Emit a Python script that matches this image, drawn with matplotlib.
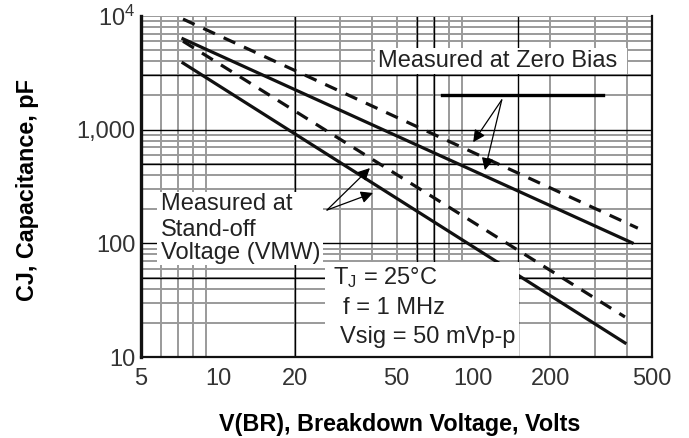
import matplotlib
matplotlib.use("Agg")
import matplotlib.pyplot as plt
from matplotlib.patches import Rectangle
import numpy as np

plt.rcParams['font.family'] = ['Liberation Sans', 'DejaVu Sans']
plt.rcParams['mathtext.fontset'] = 'custom'
plt.rcParams['mathtext.rm'] = 'Liberation Sans'
plt.rcParams['mathtext.it'] = 'Liberation Sans'

# ---- data ----
v_zero_dashed = [7.3, 440]
c_zero_dashed = [9400, 136]
v_zero_solid = [7.3, 418]
c_zero_solid = [6300, 101]
v_vmw_dashed = [7.3, 392]
c_vmw_dashed = [6000, 22.5]
v_vmw_solid = [7.3, 392]
c_vmw_solid = [3860, 13.3]

x_ticks = [5, 10, 20, 50, 100, 200, 500]
x_ticklabels = ['5', '10', '20', '50', '100', '200', '500']
y_ticks = [10, 100, 1000, 10000]
y_ticklabels = ['10', '100', '1,000', r'$\mathregular{10^4}$']

fig = plt.figure(figsize=(6.89, 4.38), dpi=100)
ax = fig.add_axes([141/689, (438-357)/438, 511/689, 341/438])
ax.set_xscale('log')
ax.set_yscale('log')
ax.set_xlim(5, 500)
ax.set_ylim(10, 10000)

# grid
minor_gray = '#9a9a9a'
for dec in [1, 10, 100]:
    for m in range(2, 10):
        val = 5 * 0 + m * dec
        if 5 < val < 500:
            ax.axvline(val, color=minor_gray, lw=1.4, zorder=0.5)
for dec in [10, 100, 1000]:
    for m in range(2, 10):
        ax.axhline(m * dec, color=minor_gray, lw=1.4, zorder=0.5)
for val in [20, 60, 70, 150]:
    ax.axvline(val, color='black', lw=1.0, zorder=0.6)
for val in [50, 100, 500, 1000, 3000]:
    ax.axhline(val, color='black', lw=1.0, zorder=0.6)
ax.axhline(10000, color=minor_gray, lw=1.4, zorder=0.6)
ax.axhline(2000, xmin=0.589, xmax=0.904, color='black', lw=2.4, zorder=0.7)

# curves
lw = 2.3
ax.plot(v_zero_dashed, c_zero_dashed, color='#111111', lw=lw, ls=(0, (4, 3)), zorder=2)
ax.plot(v_zero_solid, c_zero_solid, color='#111111', lw=lw, zorder=2)
ax.plot(v_vmw_dashed, c_vmw_dashed, color='#111111', lw=lw, ls=(0, (4, 3)), zorder=2)
ax.plot(v_vmw_solid, c_vmw_solid, color='#111111', lw=lw, zorder=2)

# white label boxes
for (x0, y0, w, h) in [(0.360, 0.0, 0.380, 0.279),
                       (0.031, 0.270, 0.325, 0.214),
                       (0.458, 0.830, 0.493, 0.075)]:
    ax.add_patch(Rectangle((x0, y0), w, h, transform=ax.transAxes,
                           facecolor='white', edgecolor='none', zorder=3))

tcol = '#222222'
fs = 17
ax.text(0.464, 0.868, 'Measured at Zero Bias', transform=ax.transAxes,
        fontsize=fs, color=tcol, va='center', ha='left', zorder=4)
ax.text(0.039, 0.449, 'Measured at', transform=ax.transAxes,
        fontsize=fs, color=tcol, va='center', ha='left', zorder=4)
ax.text(0.039, 0.372, 'Stand-off', transform=ax.transAxes,
        fontsize=fs, color=tcol, va='center', ha='left', zorder=4)
ax.text(0.039, 0.305, 'Voltage (VMW)', transform=ax.transAxes,
        fontsize=fs, color=tcol, va='center', ha='left', zorder=4)
ax.text(0.376, 0.232, r'$\mathregular{T_J}$ = 25°C', transform=ax.transAxes,
        fontsize=fs, color=tcol, va='center', ha='left', zorder=4)
ax.text(0.395, 0.144, 'f = 1 MHz', transform=ax.transAxes,
        fontsize=fs, color=tcol, va='center', ha='left', zorder=4)
ax.text(0.389, 0.059, 'Vsig = 50 mVp-p', transform=ax.transAxes,
        fontsize=fs, color=tcol, va='center', ha='left', zorder=4)

# arrows
ap = dict(arrowstyle='-|>', color='black', lw=0.9, mutation_scale=18,
          shrinkA=0, shrinkB=0)
for tail, head in [((0.364, 0.431), (0.448, 0.554)),
                   ((0.364, 0.431), (0.454, 0.481)),
                   ((0.706, 0.754), (0.650, 0.630)),
                   ((0.706, 0.754), (0.673, 0.548))]:
    ax.annotate('', xy=head, xytext=tail, xycoords='axes fraction',
                textcoords='axes fraction', arrowprops=ap, zorder=5)

# ticks & spines
ax.set_xticks(x_ticks)
ax.set_xticklabels(x_ticklabels)
ax.set_yticks(y_ticks)
ax.set_yticklabels(y_ticklabels)
ax.xaxis.set_minor_locator(matplotlib.ticker.NullLocator())
ax.yaxis.set_minor_locator(matplotlib.ticker.NullLocator())
ax.tick_params(axis='both', length=0, labelsize=fs, labelcolor='#333333')
ax.tick_params(axis='x', pad=8)
ax.tick_params(axis='y', pad=4)

ax.spines['top'].set_visible(False)
ax.spines['left'].set_linewidth(2.4)
ax.spines['bottom'].set_linewidth(1.6)
ax.spines['right'].set_linewidth(1.6)
for s in ax.spines.values():
    s.set_color('#111111')
    s.set_zorder(6)

fig.text(28/689, 1 - 190/438, 'CJ, Capacitance, pF', rotation=90,
         fontsize=16.8, fontweight='bold', ha='center', va='center', color='black')
fig.text(400/689, 1 - 425/438, 'V(BR), Breakdown Voltage, Volts',
         fontsize=16.8, fontweight='bold', ha='center', va='center', color='black')

fig.savefig('out.png', dpi=100, facecolor='white')
